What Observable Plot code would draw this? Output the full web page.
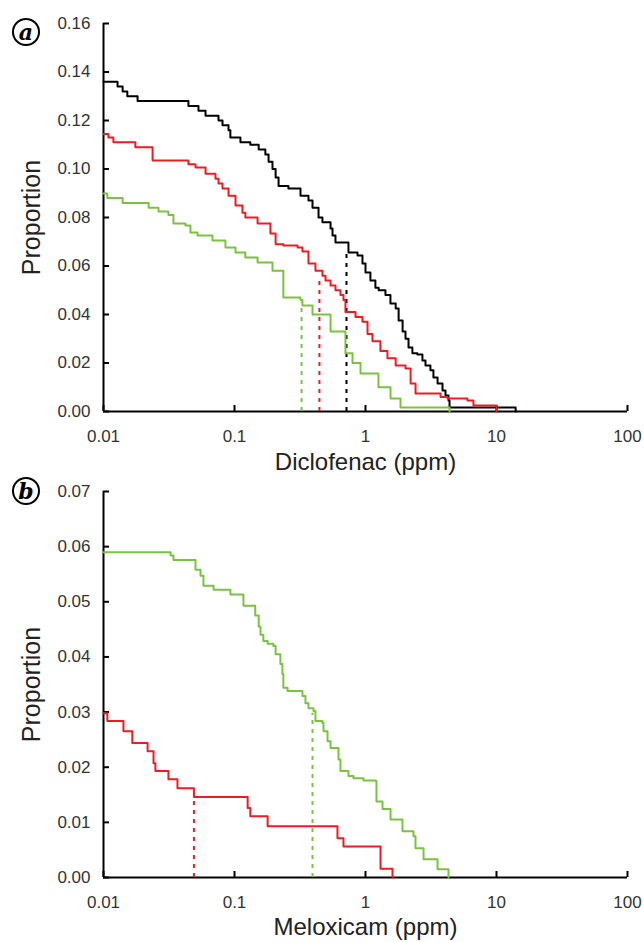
<!DOCTYPE html>
<html><head><meta charset="utf-8">
<script src="https://cdn.jsdelivr.net/npm/d3@7"></script>
<script src="https://cdn.jsdelivr.net/npm/@observablehq/plot@0.6"></script>
<style>
body{margin:0;background:#fff;}
#chart{position:relative;width:644px;}
#chart svg{display:block;}
.panel-letter{position:absolute;width:24px;height:24px;border:2px solid #000;border-radius:50%;background:#fff;
  display:flex;align-items:center;justify-content:center;font-family:'DejaVu Serif','Liberation Serif',serif;
  font-style:italic;font-weight:bold;font-size:22px;line-height:1;color:#000;}
</style></head><body><div id="chart"></div>
<script>
// ---- tick values and labels ----
const xTicks = [0.01, 0.1, 1, 10, 100];
const xTickLabels = ["0.01", "0.1", "1", "10", "100"];
const yTicksA = [0, 0.02, 0.04, 0.06, 0.08, 0.10, 0.12, 0.14, 0.16];
const yTicksB = [0, 0.01, 0.02, 0.03, 0.04, 0.05, 0.06, 0.07];

// ---- panel a: Diclofenac ----
const aBlackX = [0.01,0.0128,0.0140,0.0152,0.0182,0.0445,0.0531,0.0601,0.0755,0.081,0.090,0.093,0.111,0.132,0.153,0.172,0.182,0.195,0.206,0.217,0.258,0.319,0.367,0.394,0.438,0.469,0.541,0.560,0.590,0.741,0.869,0.948,1.00,1.09,1.19,1.26,1.42,1.55,1.70,1.79,1.92,2.02,2.13,2.28,2.49,2.72,2.87,3.13,3.30,3.55,3.87,4.08,4.30,4.38,14];
const aBlackP = [0.136,0.134,0.132,0.130,0.128,0.126,0.124,0.122,0.120,0.118,0.116,0.113,0.111,0.110,0.108,0.106,0.103,0.100,0.0965,0.093,0.092,0.089,0.087,0.084,0.080,0.078,0.0755,0.0726,0.0697,0.0656,0.0643,0.061,0.0573,0.054,0.051,0.050,0.048,0.0445,0.0425,0.0375,0.033,0.030,0.0264,0.024,0.0235,0.021,0.019,0.017,0.014,0.0115,0.0087,0.0066,0.0045,0.0016,0];

const aRedX = [0.01,0.0109,0.0119,0.0175,0.0237,0.0445,0.0504,0.0601,0.0716,0.0755,0.081,0.090,0.1018,0.115,0.121,0.150,0.188,0.206,0.236,0.303,0.330,0.367,0.415,0.469,0.495,0.541,0.590,0.644,0.679,0.703,0.839,0.948,1.036,1.13,1.30,1.47,1.70,2.02,2.21,2.41,3.74,4.23,6.0,6.67,10];
const aRedP = [0.1144,0.113,0.111,0.109,0.1035,0.102,0.1006,0.098,0.096,0.094,0.092,0.089,0.085,0.082,0.080,0.0775,0.0734,0.069,0.0685,0.0676,0.066,0.061,0.058,0.056,0.054,0.052,0.050,0.048,0.046,0.041,0.039,0.037,0.032,0.029,0.025,0.022,0.019,0.0177,0.0115,0.0074,0.006,0.0054,0.0045,0.0025,0];

const aGreenX = [0.01,0.0107,0.0140,0.0221,0.0263,0.0313,0.0342,0.0422,0.0461,0.0522,0.0679,0.0853,0.1018,0.121,0.150,0.195,0.236,0.319,0.330,0.394,0.541,0.703,0.796,0.916,1.256,1.553,1.85,4.38];
const aGreenP = [0.0899,0.088,0.086,0.084,0.0825,0.081,0.0775,0.0767,0.0738,0.0726,0.0705,0.0676,0.0656,0.0635,0.0614,0.058,0.047,0.046,0.0437,0.040,0.033,0.024,0.020,0.0157,0.010,0.0054,0.0016,0];

const aMedianX = [0.716, 0.445, 0.325];
const aMedianTop = [0.066, 0.055, 0.045];

// ---- panel b: Meloxicam ----
const bGreenX = [0.01,0.0325,0.0342,0.0504,0.055,0.0579,0.0692,0.0931,0.117,0.144,0.153,0.158,0.166,0.179,0.198,0.206,0.224,0.232,0.236,0.254,0.330,0.348,0.367,0.401,0.415,0.469,0.478,0.513,0.541,0.622,0.644,0.741,0.809,0.966,1.192,1.213,1.349,1.553,1.916,2.325,2.408,2.774,3.547,4.302];
const bGreenP = [0.059,0.0584,0.0576,0.0558,0.0547,0.0529,0.0522,0.0513,0.0493,0.0475,0.0455,0.0440,0.0429,0.0424,0.042,0.0405,0.0387,0.0369,0.0344,0.0338,0.0329,0.0316,0.0307,0.0302,0.0284,0.028,0.0265,0.0247,0.0235,0.0214,0.0193,0.0184,0.018,0.0176,0.0175,0.0138,0.0124,0.0105,0.0084,0.0075,0.0053,0.0033,0.0015,0];

const bRedX = [0.01,0.0107,0.0142,0.0166,0.0217,0.0241,0.0249,0.0313,0.0367,0.049,0.126,0.132,0.179,0.611,0.679,1.302,1.607];
const bRedP = [0.0298,0.0284,0.0265,0.0244,0.0229,0.0207,0.0193,0.0178,0.0162,0.0146,0.0126,0.0111,0.0093,0.0071,0.0056,0.0016,0];

const bMedianX = [0.049, 0.394];
const bMedianTop = [0.0146, 0.0298];

const panelLetters = ["a", "b"];
const BLACK = "#000000", RED = "#ec1c24", GREEN = "#7cc242";

const toRows = (xs, ps) => xs.map((x, i) => ({x, p: ps[i]}));

function panel({height, mt, mb, yDomain, yTicks, series, medians, xLabel, xLabelDy}) {
  const width = 644, ml = 103, mr = 17;
  const frameW = width - ml - mr, frameH = height - mt - mb;
  const marks = [
    Plot.ruleY([0], {stroke: "#000", strokeWidth: 2}),
    Plot.ruleX([0.01], {stroke: "#000", strokeWidth: 2}),
    Plot.tickX(xTicks, {x: d => d, insetTop: frameH - 6, stroke: "#000", strokeWidth: 2}),
    Plot.tickY(yTicks, {y: d => d, insetRight: frameW - 6, stroke: "#000", strokeWidth: 2}),
    Plot.axisX({ticks: xTicks, tickFormat: d => xTickLabels[xTicks.indexOf(d)], tickSize: 0, tickPadding: 18, fontSize: 17, fill: "#333", label: null}),
    Plot.axisY({ticks: yTicks, tickFormat: d3.format(".2f"), tickSize: 0, tickPadding: 13, fontSize: 17, fill: "#333", label: null}),
    ...medians.map(m => Plot.ruleX(m.xs.map((x, i) => ({x, top: m.tops[i], c: m.colors[i]})), {x: "x", y1: 0, y2: "top", stroke: "c", strokeWidth: 2, strokeDasharray: "4,5"})),
    ...series.map(s => Plot.line(toRows(s.xs, s.ps), {x: "x", y: "p", curve: "step-after", stroke: s.color, strokeWidth: 2})),
    Plot.text([xLabel], {frameAnchor: "bottom", dy: xLabelDy, fontSize: 24, fill: "#222"}),
    Plot.text(["Proportion"], {frameAnchor: "left", textAnchor: "middle", dx: -72, rotate: -90, fontSize: 25, fill: "#222"})
  ];
  return Plot.plot({
    width, height, marginLeft: ml, marginRight: mr, marginTop: mt, marginBottom: mb,
    style: {fontFamily: "'Liberation Sans', Arial, sans-serif", background: "white", overflow: "visible"},
    x: {type: "log", domain: [0.01, 100], axis: null},
    y: {domain: yDomain, axis: null},
    color: {type: "identity"},
    marks
  });
}

const chart = document.getElementById("chart");
chart.append(panel({
  height: 470, mt: 23, mb: 59, yDomain: [0, 0.16], yTicks: yTicksA,
  series: [{xs: aBlackX, ps: aBlackP, color: BLACK}, {xs: aRedX, ps: aRedP, color: RED}, {xs: aGreenX, ps: aGreenP, color: GREEN}],
  medians: [{xs: aMedianX, tops: aMedianTop, colors: [BLACK, RED, GREEN]}],
  xLabel: "Diclofenac (ppm)", xLabelDy: 58
}));
chart.append(panel({
  height: 472, mt: 21, mb: 65, yDomain: [0, 0.07], yTicks: yTicksB,
  series: [{xs: bGreenX, ps: bGreenP, color: GREEN}, {xs: bRedX, ps: bRedP, color: RED}],
  medians: [{xs: bMedianX, tops: bMedianTop, colors: [RED, GREEN]}],
  xLabel: "Meloxicam (ppm)", xLabelDy: 57
}));

// circled panel letters
const letterCenters = [[26, 32], [26, 491]];
panelLetters.forEach((l, i) => {
  const d = document.createElement("div");
  d.className = "panel-letter";
  d.textContent = l;
  d.style.left = (letterCenters[i][0] - 14) + "px";
  d.style.top = (letterCenters[i][1] - 14) + "px";
  chart.append(d);
});
</script></body></html>
